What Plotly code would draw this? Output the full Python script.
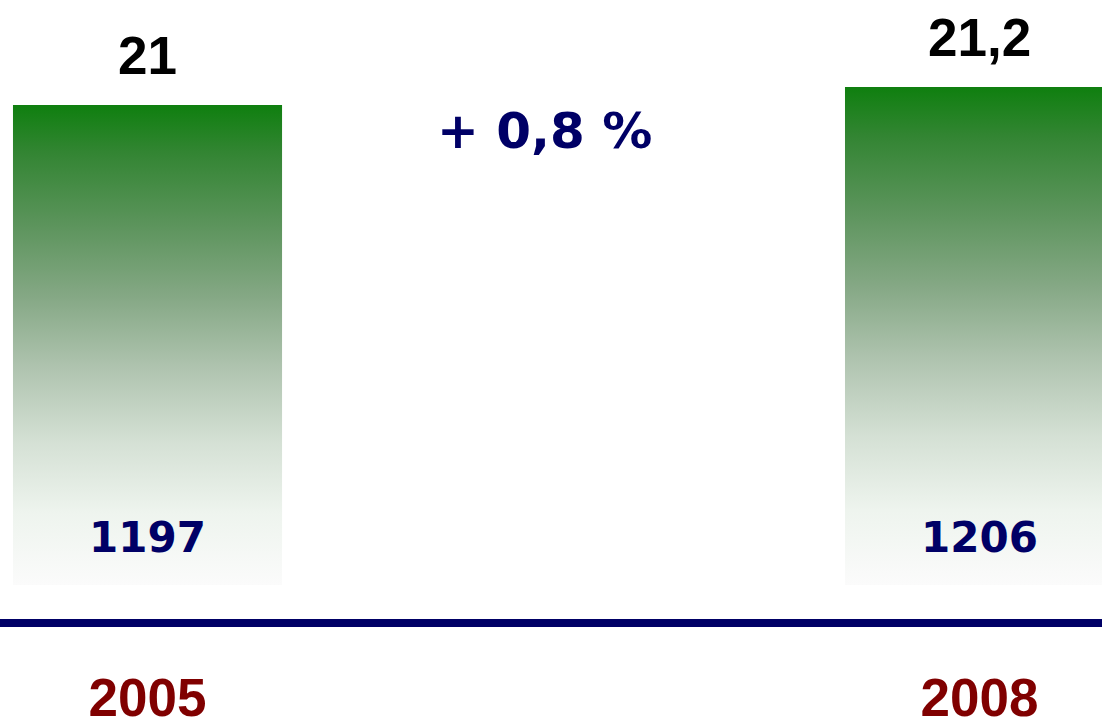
import plotly.graph_objects as go

years = ["2005", "2008"]
values = [21, 21.2]
value_labels = ["21", "21,2"]
counts = [1197, 1206]
change_label = "+ 0,8 %"

NAVY = "#000066"
DARKRED = "#800000"
BASE = 15.667
HALF_W = 0.1617

gradient = [
    [0.0, "#fbfbfb"],
    [0.15, "#eef4ee"],
    [0.30, "#d4e0d4"],
    [0.45, "#b0c4b0"],
    [0.60, "#85a885"],
    [0.75, "#5c945c"],
    [0.90, "#338533"],
    [1.0, "#0f7f0f"],
]

fig = go.Figure()
for i, (yr, v) in enumerate(zip(years, values)):
    xs = [i - HALF_W, i + HALF_W, i + HALF_W, i - HALF_W, i - HALF_W]
    ys = [BASE, BASE, v, v, BASE]
    fig.add_trace(go.Scatter(
        x=xs, y=ys, mode="lines", fill="toself",
        line=dict(width=0, color="rgba(0,0,0,0)"),
        fillgradient=dict(type="vertical", colorscale=gradient, start=BASE, stop=v),
        hoverinfo="skip", showlegend=False,
    ))

annotations = []
for i, (v, lab, c) in enumerate(zip(values, value_labels, counts)):
    annotations.append(dict(
        x=i, y=v, xref="x", yref="y", text=lab, showarrow=False,
        yanchor="middle", yshift=50,
        font=dict(family="Liberation Sans", size=53, color="black", weight="bold"),
    ))
    annotations.append(dict(
        x=i, y=BASE, xref="x", yref="y", text=str(c), showarrow=False,
        yanchor="middle", yshift=47,
        font=dict(family="DejaVu Sans", size=42, color=NAVY, weight="bold"),
    ))
annotations.append(dict(
    x=544 / 1102, y=1 - 131 / 619, xref="paper", yref="paper", text=change_label,
    showarrow=False, xanchor="center", yanchor="middle",
    font=dict(family="DejaVu Sans", size=50, color=NAVY, weight="bold"),
))

fig.update_layout(
    width=1102, height=720,
    margin=dict(l=0, r=0, t=0, b=101, autoexpand=False),
    paper_bgcolor="white", plot_bgcolor="white",
    annotations=annotations,
    xaxis=dict(
        range=[-0.1773, 1.1472], tickvals=[0, 1], ticktext=years,
        showgrid=False, zeroline=False, automargin=False,
        showline=True, linecolor=NAVY, linewidth=8,
        ticks="outside", ticklen=25, tickcolor="rgba(0,0,0,0)",
        tickfont=dict(family="Liberation Sans", size=53, color=DARKRED, weight="bold"),
        fixedrange=True,
    ),
    yaxis=dict(
        range=[15.289, 22.1667], visible=False, showgrid=False, zeroline=False,
        automargin=False, fixedrange=True,
    ),
)

fig.write_html("out.html", config={"displayModeBar": False},
               post_script="document.body.style.margin='0';document.body.style.overflow='hidden';")
